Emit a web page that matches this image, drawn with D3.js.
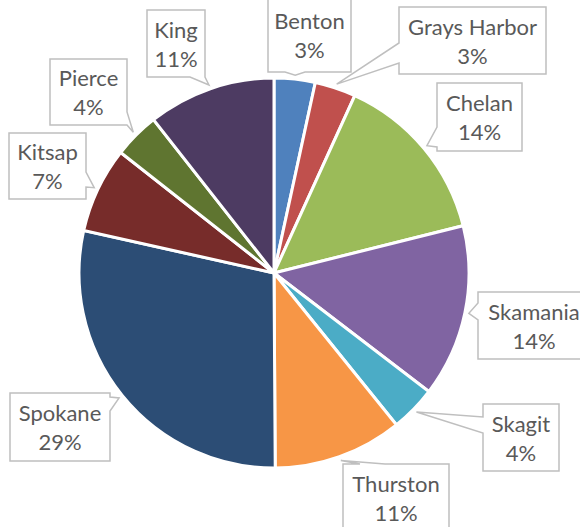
<!DOCTYPE html>
<html>
<head>
  <meta charset="utf-8">
  <script src="https://d3js.org/d3.v7.min.js"></script>
  <style>
    body { margin: 0; background: #fff; }
    .slice { stroke: #fff; stroke-width: 3px; }
    .callout { fill: #fff; stroke: #bfbfbf; stroke-width: 1.5px; }
    .label { font-family: Lato, "Open Sans", sans-serif; font-size: 22px; fill: #595959; text-anchor: middle; }
  </style>
</head>
<body>
  <svg id="pie" width="580" height="527"></svg>
  <script>
    // counties, clockwise from 12 o'clock
    const counties = ["Benton", "Grays Harbor", "Chelan", "Skamania", "Skagit",
                      "Thurston", "Spokane", "Kitsap", "Pierce", "King"];
    // share of total (%)
    const shares = [3.4, 3.4, 14.3, 14.3, 3.8, 10.7, 28.6, 7.1, 3.8, 10.6];
    const colors = ["#4f81bd", "#c0504d", "#9bbb59", "#8064a2", "#4bacc6",
                    "#f79646", "#2c4d75", "#772c2a", "#5f7530", "#4d3b62"];

    // callout boxes: [x0, y0, x1, y1], side the pointer leaves from, pointer base on that side
    const boxes = [
      {box: [268, -3, 351, 72],  side: "bottom", base: [285, 305]},
      {box: [399, 7, 546, 74],   side: "left",   base: [43, 63]},
      {box: [437, 83, 522, 151], side: "left",   base: [127, 147]},
      {box: [478, 292, 590, 359], side: "left",  base: [303, 320]},
      {box: [483, 404, 559, 471], side: "left",  base: [417, 433]},
      {box: [343, 464, 449, 531], side: "top",   base: [360, 385]},
      {box: [10, 393, 110, 461], side: "right",  base: [397, 411]},
      {box: [9, 133, 86, 199],   side: "right",  base: [172, 187]},
      {box: [50, 59, 127, 125],  side: "right",  base: [112, 125]},
      {box: [147, 10, 205, 77],  side: "bottom", base: [190, 205]}
    ];

    const svg = d3.select("#pie");
    const cx = 274, cy = 273, radius = 195;

    const data = counties.map((c, i) => ({county: c, share: shares[i], color: colors[i], layout: boxes[i]}));

    const pie = d3.pie().value(d => d.share).sort(null);
    const arc = d3.arc().innerRadius(0).outerRadius(radius);
    const arcs = pie(data);

    const g = svg.append("g").attr("transform", `translate(${cx},${cy})`);
    g.selectAll("path.slice").data(arcs)
      .join("path")
      .attr("class", "slice")
      .attr("fill", d => d.data.color)
      .attr("d", arc);

    // point just outside the rim at the middle of the slice
    function tipOf(a) {
      const mid = (a.startAngle + a.endAngle) / 2;
      const r = radius + 4;
      return [cx + r * Math.sin(mid), cy - r * Math.cos(mid)];
    }

    function calloutPath(layout, tip) {
      const [x0, y0, x1, y1] = layout.box;
      const [a, b] = layout.base;
      let pts = [[x0, y0]];
      if (layout.side === "top") pts.push([a, y0], tip, [b, y0]);
      pts.push([x1, y0]);
      if (layout.side === "right") pts.push([x1, a], tip, [x1, b]);
      pts.push([x1, y1]);
      if (layout.side === "bottom") pts.push([b, y1], tip, [a, y1]);
      pts.push([x0, y1]);
      if (layout.side === "left") pts.push([x0, b], tip, [x0, a]);
      return "M" + pts.map(p => p.join(",")).join("L") + "Z";
    }

    const labels = svg.append("g").selectAll("g").data(arcs).join("g");
    labels.append("path")
      .attr("class", "callout")
      .attr("d", d => calloutPath(d.data.layout, tipOf(d)));

    labels.each(function(d) {
      const [x0, y0, x1, y1] = d.data.layout.box;
      const mx = (x0 + x1) / 2, my = (y0 + y1) / 2;
      const t = d3.select(this);
      t.append("text").attr("class", "label")
        .attr("x", mx).attr("y", my - 6)
        .text(d.data.county);
      t.append("text").attr("class", "label")
        .attr("x", mx).attr("y", my + 23)
        .text(Math.round(d.data.share) + "%");
    });
  </script>
</body>
</html>
